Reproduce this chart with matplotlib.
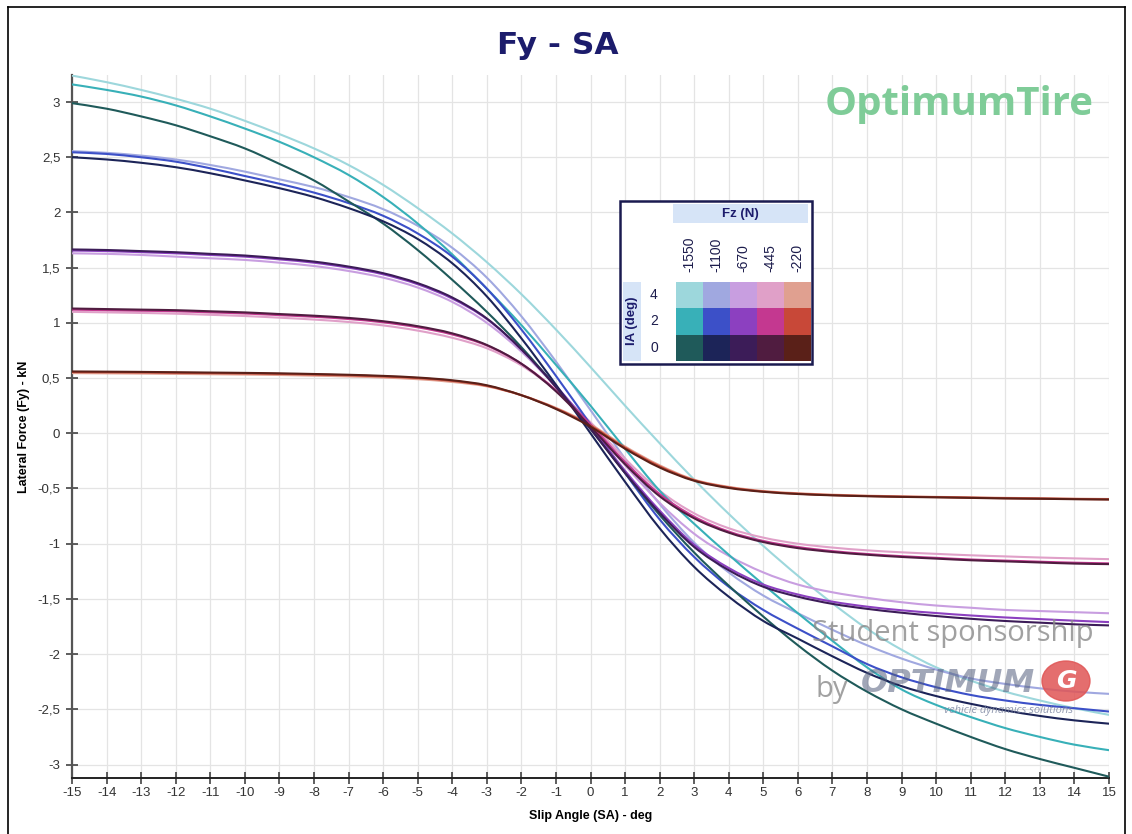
import matplotlib
matplotlib.use("Agg")
import matplotlib.pyplot as plt
from matplotlib.patches import Rectangle, Ellipse, PathPatch
from matplotlib.path import Path
from matplotlib.lines import Line2D
from matplotlib.ticker import FuncFormatter, MultipleLocator

plt.rcParams["axes.unicode_minus"] = False

# ---- data -------------------------------------------------------------
slip_angle = list(range(-15, 16))          # deg
fz_labels = ["-1550", "-1100", "-670", "-445", "-220"]   # N
ia_labels = ["4", "2", "0"]                               # deg

# Lateral force (kN) per vertical load / inclination angle
fy_1550_ia4 = [3.24, 3.18, 3.11, 3.03, 2.94, 2.83, 2.71, 2.58, 2.43, 2.25, 2.04,
               1.81, 1.55, 1.26, 0.94, 0.60, 0.25, -0.09, -0.42, -0.73, -1.02,
               -1.29, -1.54, -1.77, -1.96, -2.12, -2.24, -2.34, -2.42, -2.49, -2.55]
fy_1550_ia2 = [3.16, 3.11, 3.05, 2.97, 2.87, 2.76, 2.64, 2.50, 2.34, 2.14, 1.90,
               1.62, 1.31, 0.98, 0.62, 0.25, -0.14, -0.52, -0.82, -1.10, -1.37,
               -1.63, -1.88, -2.12, -2.32, -2.46, -2.57, -2.67, -2.75, -2.82, -2.87]
fy_1550_ia0 = [2.99, 2.94, 2.87, 2.79, 2.69, 2.58, 2.44, 2.29, 2.10, 1.90, 1.66,
               1.39, 1.10, 0.78, 0.42, 0.04, -0.36, -0.74, -1.08, -1.38, -1.66,
               -1.92, -2.15, -2.34, -2.50, -2.63, -2.75, -2.86, -2.95, -3.03, -3.11]

fy_1100_ia4 = [2.555, 2.54, 2.515, 2.48, 2.43, 2.37, 2.30, 2.23, 2.14, 2.03, 1.88,
               1.68, 1.41, 1.06, 0.65, 0.21, -0.23, -0.64, -0.99, -1.26, -1.47,
               -1.63, -1.78, -1.92, -2.04, -2.14, -2.22, -2.27, -2.31, -2.34, -2.36]
fy_1100_ia2 = [2.545, 2.53, 2.50, 2.46, 2.40, 2.33, 2.26, 2.18, 2.085, 1.97, 1.81,
               1.60, 1.31, 0.94, 0.52, 0.08, -0.36, -0.78, -1.12, -1.39, -1.60,
               -1.77, -1.93, -2.09, -2.21, -2.30, -2.37, -2.42, -2.46, -2.49, -2.52]
fy_1100_ia0 = [2.50, 2.48, 2.45, 2.41, 2.355, 2.29, 2.22, 2.14, 2.04, 1.92, 1.76,
               1.54, 1.24, 0.86, 0.44, 0.00, -0.44, -0.86, -1.21, -1.48, -1.70,
               -1.86, -2.02, -2.17, -2.29, -2.38, -2.45, -2.51, -2.56, -2.60, -2.63]

fy_670_ia4 = [1.63, 1.625, 1.615, 1.60, 1.585, 1.57, 1.545, 1.515, 1.47, 1.41, 1.32,
              1.19, 1.00, 0.74, 0.42, 0.07, -0.29, -0.63, -0.91, -1.11, -1.26,
              -1.37, -1.44, -1.49, -1.53, -1.56, -1.58, -1.60, -1.61, -1.62, -1.63]
fy_670_ia2 = [1.655, 1.65, 1.64, 1.63, 1.615, 1.60, 1.575, 1.545, 1.50, 1.44, 1.35,
              1.22, 1.035, 0.76, 0.43, 0.06, -0.34, -0.70, -1.01, -1.22, -1.37,
              -1.46, -1.525, -1.57, -1.603, -1.628, -1.65, -1.668, -1.683, -1.697, -1.71]
fy_670_ia0 = [1.665, 1.66, 1.65, 1.64, 1.625, 1.61, 1.585, 1.555, 1.51, 1.45, 1.36,
              1.23, 1.04, 0.76, 0.42, 0.04, -0.36, -0.72, -1.03, -1.24, -1.39,
              -1.48, -1.545, -1.59, -1.625, -1.655, -1.68, -1.70, -1.715, -1.73, -1.74]

fy_445_ia4 = [1.10, 1.095, 1.09, 1.083, 1.073, 1.062, 1.047, 1.03, 1.008, 0.977, 0.93,
              0.865, 0.77, 0.615, 0.39, 0.10, -0.23, -0.52, -0.725, -0.86, -0.945,
              -1.00, -1.035, -1.06, -1.078, -1.092, -1.105, -1.115, -1.125, -1.133, -1.14]
fy_445_ia2 = [1.12, 1.115, 1.11, 1.105, 1.095, 1.085, 1.07, 1.055, 1.035, 1.005, 0.96,
              0.895, 0.795, 0.63, 0.39, 0.08, -0.26, -0.55, -0.755, -0.89, -0.975,
              -1.03, -1.067, -1.093, -1.113, -1.128, -1.143, -1.153, -1.163, -1.172, -1.178]
fy_445_ia0 = [1.13, 1.125, 1.12, 1.115, 1.105, 1.095, 1.08, 1.065, 1.045, 1.015, 0.97,
              0.905, 0.80, 0.63, 0.38, 0.06, -0.28, -0.57, -0.77, -0.90, -0.985,
              -1.04, -1.075, -1.10, -1.12, -1.135, -1.15, -1.16, -1.17, -1.18, -1.185]

fy_220_ia4 = [0.545, 0.543, 0.541, 0.538, 0.535, 0.532, 0.528, 0.522, 0.515, 0.505, 0.49,
              0.465, 0.425, 0.345, 0.23, 0.08, -0.12, -0.29, -0.42, -0.485, -0.523,
              -0.543, -0.556, -0.565, -0.571, -0.576, -0.58, -0.585, -0.588, -0.592, -0.595]
fy_220_ia2 = [0.555, 0.553, 0.551, 0.548, 0.545, 0.542, 0.538, 0.532, 0.525, 0.515, 0.50,
              0.475, 0.43, 0.345, 0.225, 0.07, -0.13, -0.30, -0.425, -0.49, -0.527,
              -0.547, -0.56, -0.568, -0.574, -0.578, -0.583, -0.588, -0.591, -0.595, -0.598]
fy_220_ia0 = [0.56, 0.558, 0.556, 0.553, 0.55, 0.547, 0.543, 0.537, 0.53, 0.52, 0.505,
              0.48, 0.435, 0.345, 0.22, 0.06, -0.14, -0.31, -0.43, -0.495, -0.53,
              -0.55, -0.562, -0.57, -0.576, -0.58, -0.585, -0.59, -0.593, -0.597, -0.60]

# ---- colours: rows = IA 4, 2, 0 ; columns = Fz -1550 ... -220 ----------
palette = [
    ["#9dd7dc", "#a0a8e0", "#c89ee0", "#e0a0c8", "#e0a090"],
    ["#38b0b8", "#3c50c8", "#8c40c0", "#c43890", "#c84838"],
    ["#1f5a5a", "#1c2458", "#3c1c58", "#501c40", "#5a2018"],
]

curves = [
    [fy_1550_ia4, fy_1100_ia4, fy_670_ia4, fy_445_ia4, fy_220_ia4],
    [fy_1550_ia2, fy_1100_ia2, fy_670_ia2, fy_445_ia2, fy_220_ia2],
    [fy_1550_ia0, fy_1100_ia0, fy_670_ia0, fy_445_ia0, fy_220_ia0],
]


def smooth_path(xs, ys):
    """Cubic Bezier path passing through every sample (Catmull-Rom tangents)."""
    n = len(xs)
    verts = [(xs[0], ys[0])]
    codes = [Path.MOVETO]
    for i in range(n - 1):
        x0, y0 = xs[max(i - 1, 0)], ys[max(i - 1, 0)]
        x1, y1 = xs[i], ys[i]
        x2, y2 = xs[i + 1], ys[i + 1]
        x3, y3 = xs[min(i + 2, n - 1)], ys[min(i + 2, n - 1)]
        verts += [(x1 + (x2 - x0) / 6, y1 + (y2 - y0) / 6),
                  (x2 - (x3 - x1) / 6, y2 - (y3 - y1) / 6),
                  (x2, y2)]
        codes += [Path.CURVE4] * 3
    return Path(verts, codes)


W, H = 1132, 834
fig = plt.figure(figsize=(W / 100, H / 100), dpi=100)
fig.patch.set_facecolor("white")


def fx(px):
    return px / W


def fy(py):
    return 1 - py / H


# outer frame
for xs, ys in [((8, 8), (7, H)), ((8, 1125), (7, 7)), ((1125, 1125), (7, H))]:
    fig.add_artist(Line2D([fx(x) for x in xs], [fy(y) for y in ys],
                          color="black", lw=1.2, transform=fig.transFigure))

ax = fig.add_axes([fx(72), fy(778), fx(1109) - fx(72), fy(75) - fy(778)])
ax.set_xlim(-15, 15)
ax.set_ylim(-3.122, 3.245)

for row in range(3):
    for col in range(5):
        ax.add_patch(PathPatch(smooth_path(slip_angle, curves[row][col]),
                               fill=False, edgecolor=palette[row][col], lw=1.5,
                               capstyle="round", zorder=3 + row))

ax.xaxis.set_major_locator(MultipleLocator(1))
ax.yaxis.set_major_locator(MultipleLocator(0.5))
ax.yaxis.set_major_formatter(FuncFormatter(lambda v, p: f"{v:g}".replace(".", ",")))
ax.xaxis.set_major_formatter(FuncFormatter(lambda v, p: f"{v:g}"))
ax.grid(True, color="#e4e4e4", lw=0.9, zorder=0)
ax.set_axisbelow(True)

for side in ("top", "right"):
    ax.spines[side].set_visible(False)
ax.spines["left"].set_color("#555555")
ax.spines["left"].set_linewidth(1.6)
ax.spines["bottom"].set_color("#222222")
ax.spines["bottom"].set_linewidth(1.4)
ax.tick_params(axis="both", direction="inout", length=9, width=1.1,
               labelsize=9.5, labelcolor="#333333", colors="#333333")
ax.tick_params(axis="y", pad=4)
ax.tick_params(axis="x", pad=2)
for t in ax.get_xticklabels() + ax.get_yticklabels():
    t.set_fontfamily("Liberation Sans")

ax.set_xlabel("Slip Angle (SA) - deg", fontsize=9, fontweight="bold",
              family="Liberation Sans", labelpad=8)
ax.set_ylabel("Lateral Force (Fy) - kN", fontsize=9, fontweight="bold",
              family="Liberation Sans")
ax.yaxis.set_label_coords((30 - 72) / (1109 - 72), 0.5)

fig.text(fx(558), fy(45), "Fy - SA", ha="center", va="center", fontsize=22.5,
         fontweight="bold", color="#1c1c6c", family="DejaVu Sans")

# brand marks
fig.text(fx(959), fy(105), "OptimumTire", ha="center", va="center", fontsize=29,
         fontweight="bold", color="#7fcc98", family="Open Sans")
fig.text(fx(953), fy(634), "Student sponsorship", ha="center", va="center",
         fontsize=21, color="#8a8a8a", alpha=0.8, family="Open Sans")
fig.text(fx(832), fy(689), "by", ha="center", va="center",
         fontsize=21, color="#8a8a8a", alpha=0.8, family="Open Sans")
fig.text(fx(948), fy(683), "OPTIMUM", ha="center", va="center", fontsize=23,
         fontweight="bold", fontstyle="italic", color="#55607e", alpha=0.55,
         family="DejaVu Sans")
fig.add_artist(Ellipse((fx(1066), fy(681)), 48 / W, 40 / H, angle=0,
                       color="#e05555", alpha=0.85, transform=fig.transFigure))
fig.text(fx(1066), fy(681), "G", ha="center", va="center", fontsize=18,
         fontweight="bold", fontstyle="italic", color="white", family="DejaVu Sans")
fig.text(fx(1009), fy(711), "vehicle dynamics solutions", ha="center", va="center",
         fontsize=8, fontstyle="italic", color="#7a84a0", alpha=0.8, family="Open Sans")

# ---- Fz / IA colour key -------------------------------------------------
def frect(x0, y0, x1, y1, **kw):
    fig.add_artist(Rectangle((fx(x0), fy(y1)), fx(x1) - fx(x0), fy(y0) - fy(y1),
                             transform=fig.transFigure, **kw))


frect(620, 201, 812, 364, facecolor="white", edgecolor="#1a1a50", lw=1.8, zorder=10)
frect(673, 204, 808, 223, facecolor="#d6e4f7", edgecolor="none", zorder=11)
fig.text(fx(740), fy(214), "Fz (N)", ha="center", va="center", fontsize=9.5,
         fontweight="bold", color="#1c1c6c", family="Liberation Sans", zorder=12)
frect(623, 282, 641, 361, facecolor="#d6e4f7", edgecolor="none", zorder=11)
fig.text(fx(632), fy(321), "IA (deg)", ha="center", va="center", fontsize=9.5,
         fontweight="bold", color="#1c1c6c", rotation=90, family="Liberation Sans",
         zorder=12)

cell_x0, cell_w = 676, 27
cell_y0, cell_h = 282, 26.3
for col, lab in enumerate(fz_labels):
    cx = cell_x0 + cell_w * (col + 0.5)
    fig.text(fx(cx), fy(272), lab, ha="left", va="center", rotation=90,
             rotation_mode="anchor", fontsize=10, color="#1c1c4c",
             family="Liberation Sans", zorder=12)
for row, lab in enumerate(ia_labels):
    cy = cell_y0 + cell_h * (row + 0.5)
    fig.text(fx(654), fy(cy), lab, ha="center", va="center", fontsize=10,
             color="#1c1c4c", family="Liberation Sans", zorder=12)
    for col in range(5):
        frect(cell_x0 + cell_w * col, cell_y0 + cell_h * row,
              cell_x0 + cell_w * (col + 1), cell_y0 + cell_h * (row + 1),
              facecolor=palette[row][col], edgecolor="none", zorder=11)

fig.savefig("out.png", dpi=100, facecolor="white")
